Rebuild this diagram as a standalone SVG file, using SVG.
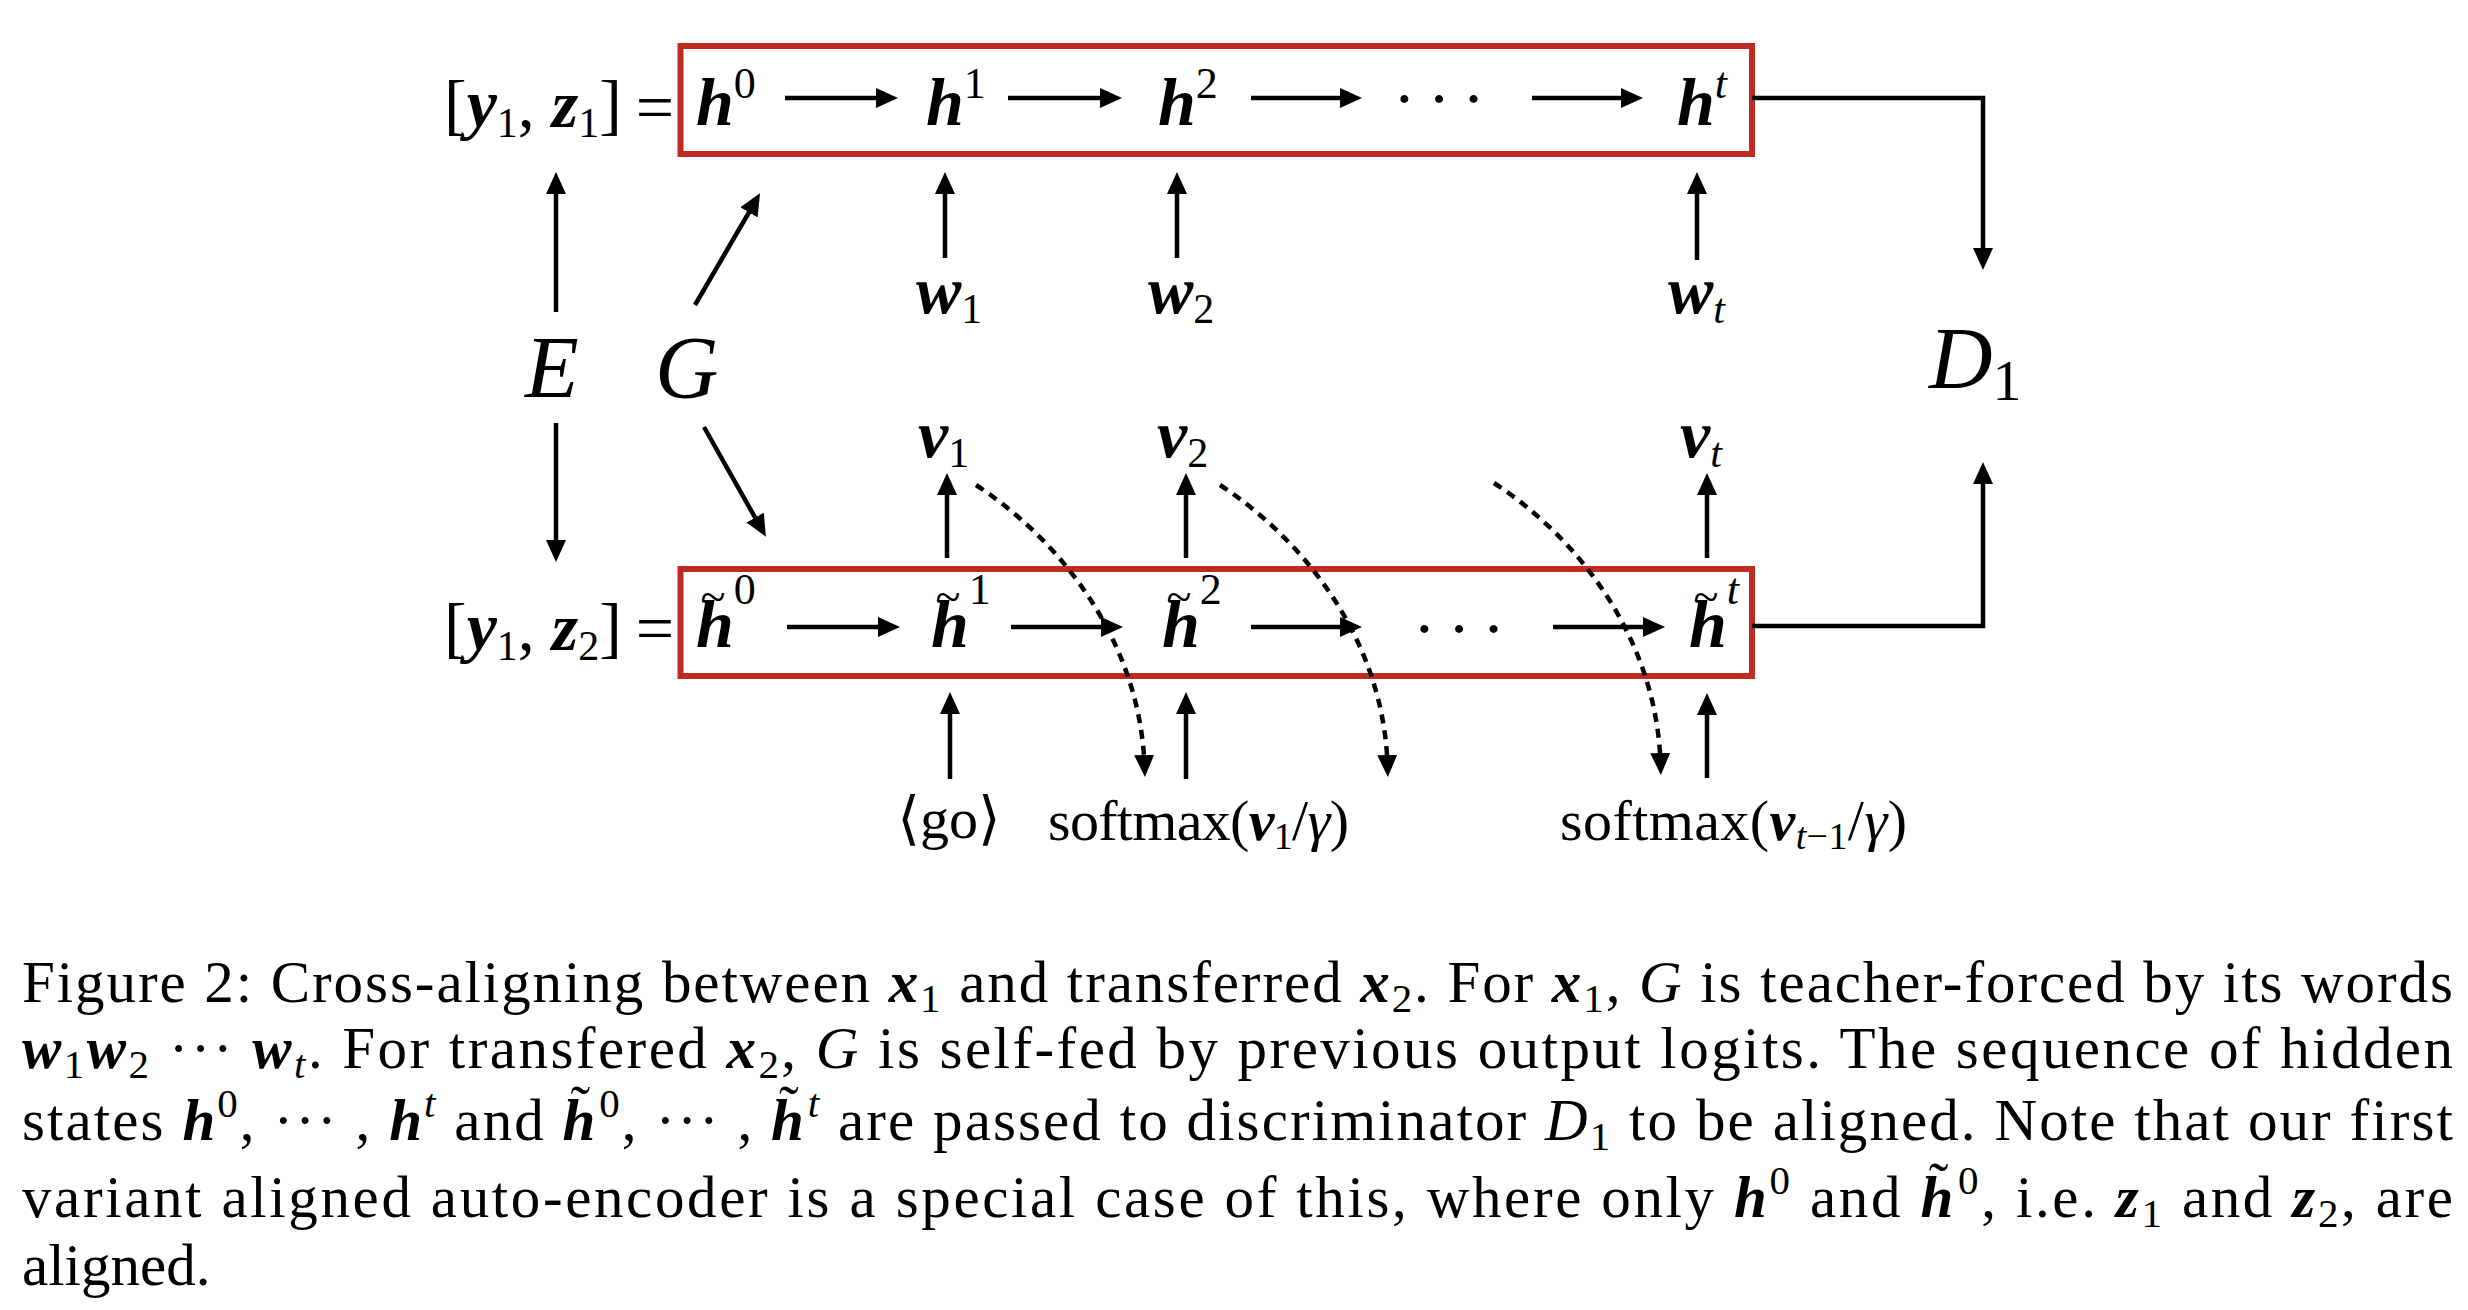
<svg xmlns="http://www.w3.org/2000/svg" width="2468" height="1310" viewBox="0 0 2468 1310">
<defs>
<style>
.m{font-family:"Liberation Serif","DejaVu Serif",serif;font-size:68px;fill:#000}
.bi{font-weight:bold;font-style:italic}
.it{font-style:italic}
.sp{font-size:44px;font-weight:normal;font-style:normal}
.spi{font-size:44px;font-weight:normal;font-style:italic}
.sb{font-size:42px;font-weight:normal;font-style:normal}
.sbi{font-size:42px;font-weight:normal;font-style:italic}
.big{font-family:"Liberation Serif","DejaVu Serif",serif;font-size:88px;font-style:italic;fill:#000}
.lab{font-family:"Liberation Serif","DejaVu Serif",serif;font-size:58px;fill:#000}
.tl{font-family:"Liberation Serif","DejaVu Serif",serif;font-size:46px;fill:#000}
.cap{font-family:"Liberation Serif","DejaVu Serif",serif;font-size:59px;fill:#000}
.cs{font-size:41px;font-weight:normal;font-style:normal}
.csi{font-size:41px;font-weight:normal;font-style:italic}
.box{fill:none;stroke:#bf2b22;stroke-width:6}
.ln{fill:none;stroke:#000;stroke-width:4.5}
.dl{fill:none;stroke:#000;stroke-width:4.5;stroke-dasharray:9 7}
</style>
<marker id="ah" viewBox="0 0 22 20" refX="12" refY="10" markerWidth="22" markerHeight="20" markerUnits="userSpaceOnUse" orient="auto"><path d="M0,0 L22,10 L0,20 z" fill="#000"/></marker>
</defs>
<rect width="2468" height="1310" fill="#fff"/>

<g id="top-box"><rect class="box" x="680.5" y="46" width="1071.5" height="108"/></g>
<g id="bottom-box"><rect class="box" x="680.5" y="569" width="1071.5" height="107"/></g>

<g id="label-y1z1"><text class="m" x="444" y="127">[<tspan class="bi">y</tspan><tspan class="sb" dy="10">1</tspan><tspan dy="-10">, </tspan><tspan class="bi">z</tspan><tspan class="sb" dy="10">1</tspan><tspan dy="-10">]</tspan></text><text class="m" x="655" y="130" text-anchor="middle">=</text></g>
<g id="label-y1z2"><text class="m" x="444" y="650">[<tspan class="bi">y</tspan><tspan class="sb" dy="10">1</tspan><tspan dy="-10">, </tspan><tspan class="bi">z</tspan><tspan class="sb" dy="10">2</tspan><tspan dy="-10">]</tspan></text><text class="m" x="655" y="651" text-anchor="middle">=</text></g>

<g id="node-h0"><text class="m" x="696" y="125"><tspan class="bi">h</tspan><tspan class="sp" dy="-27">0</tspan></text></g>
<g id="node-h1"><text class="m" x="926" y="125"><tspan class="bi">h</tspan><tspan class="sp" dy="-27">1</tspan></text></g>
<g id="node-h2"><text class="m" x="1158" y="125"><tspan class="bi">h</tspan><tspan class="sp" dy="-27">2</tspan></text></g>
<g id="node-hdots"><text class="m" x="1445" y="121" text-anchor="middle" letter-spacing="12">···</text></g>
<g id="node-ht"><text class="m" x="1677" y="125"><tspan class="bi">h</tspan><tspan class="spi" dy="-27">t</tspan></text></g>

<g id="node-ht0"><text class="m" x="696" y="647"><tspan class="bi">h</tspan><tspan class="sp" dy="-43">0</tspan></text><text class="tl" x="713" y="612" text-anchor="middle">~</text></g>
<g id="node-ht1"><text class="m" x="931" y="647"><tspan class="bi">h</tspan><tspan class="sp" dy="-43">1</tspan></text><text class="tl" x="948" y="612" text-anchor="middle">~</text></g>
<g id="node-ht2"><text class="m" x="1162" y="647"><tspan class="bi">h</tspan><tspan class="sp" dy="-43">2</tspan></text><text class="tl" x="1179" y="612" text-anchor="middle">~</text></g>
<g id="node-htdots"><text class="m" x="1465" y="651" text-anchor="middle" letter-spacing="12">···</text></g>
<g id="node-htt"><text class="m" x="1689" y="647"><tspan class="bi">h</tspan><tspan class="spi" dy="-43">t</tspan></text><text class="tl" x="1706" y="612" text-anchor="middle">~</text></g>

<g id="node-w1"><text class="m" x="916" y="313"><tspan class="bi">w</tspan><tspan class="sb" dy="10">1</tspan></text></g>
<g id="node-w2"><text class="m" x="1148" y="313"><tspan class="bi">w</tspan><tspan class="sb" dy="10">2</tspan></text></g>
<g id="node-wt"><text class="m" x="1668" y="313"><tspan class="bi">w</tspan><tspan class="sbi" dy="10">t</tspan></text></g>

<g id="node-v1"><text class="m" x="918" y="457"><tspan class="bi">v</tspan><tspan class="sb" dy="10">1</tspan></text></g>
<g id="node-v2"><text class="m" x="1157" y="457"><tspan class="bi">v</tspan><tspan class="sb" dy="10">2</tspan></text></g>
<g id="node-vt"><text class="m" x="1680" y="457"><tspan class="bi">v</tspan><tspan class="sbi" dy="10">t</tspan></text></g>

<g id="node-E"><text class="big" x="525" y="397">E</text></g>
<g id="node-G"><text class="big" x="655" y="397">G</text></g>
<g id="node-D1"><text class="big" x="1929" y="388">D<tspan style="font-size:58px;font-style:normal" dy="12">1</tspan></text></g>

<g id="node-go"><text class="lab" x="949" y="838" text-anchor="middle">⟨go⟩</text></g>
<g id="node-softmax1"><text class="lab" x="1048" y="840" textLength="301" lengthAdjust="spacing">softmax(<tspan class="bi">v</tspan><tspan class="sb" style="font-size:38px" dy="9">1</tspan><tspan dy="-9">/</tspan><tspan class="it">γ</tspan>)</text></g>
<g id="node-softmaxt"><text class="lab" x="1560" y="840" textLength="347" lengthAdjust="spacing">softmax(<tspan class="bi">v</tspan><tspan class="sbi" style="font-size:38px" dy="9">t</tspan><tspan class="sb" style="font-size:38px">−1</tspan><tspan dy="-9">/</tspan><tspan class="it">γ</tspan>)</text></g>

<g id="connectors">
<line class="ln" x1="785" y1="98" x2="888" y2="98" marker-end="url(#ah)"/>
<line class="ln" x1="1008" y1="98" x2="1112" y2="98" marker-end="url(#ah)"/>
<line class="ln" x1="1251" y1="98" x2="1352" y2="98" marker-end="url(#ah)"/>
<line class="ln" x1="1532" y1="98" x2="1633" y2="98" marker-end="url(#ah)"/>
<line class="ln" x1="787" y1="627" x2="890" y2="627" marker-end="url(#ah)"/>
<line class="ln" x1="1011" y1="627" x2="1113" y2="627" marker-end="url(#ah)"/>
<line class="ln" x1="1251" y1="627" x2="1352" y2="627" marker-end="url(#ah)"/>
<line class="ln" x1="1553" y1="627" x2="1655" y2="627" marker-end="url(#ah)"/>
<line class="ln" x1="945" y1="258" x2="945" y2="182" marker-end="url(#ah)"/>
<line class="ln" x1="1177" y1="258" x2="1177" y2="182" marker-end="url(#ah)"/>
<line class="ln" x1="1697" y1="260" x2="1697" y2="182" marker-end="url(#ah)"/>
<line class="ln" x1="947" y1="558" x2="947" y2="483" marker-end="url(#ah)"/>
<line class="ln" x1="1186" y1="558" x2="1186" y2="483" marker-end="url(#ah)"/>
<line class="ln" x1="1707" y1="558" x2="1707" y2="483" marker-end="url(#ah)"/>
<line class="ln" x1="950" y1="779" x2="950" y2="702" marker-end="url(#ah)"/>
<line class="ln" x1="1186" y1="779" x2="1186" y2="702" marker-end="url(#ah)"/>
<line class="ln" x1="1707" y1="778" x2="1707" y2="703" marker-end="url(#ah)"/>
<line class="ln" x1="556" y1="312" x2="556" y2="182" marker-end="url(#ah)"/>
<line class="ln" x1="556" y1="423" x2="556" y2="552" marker-end="url(#ah)"/>
<line class="ln" x1="695" y1="305" x2="755" y2="202" marker-end="url(#ah)"/>
<line class="ln" x1="704" y1="427" x2="761" y2="528" marker-end="url(#ah)"/>
<polyline class="ln" points="1752,98 1983,98 1983,260" marker-end="url(#ah)"/>
<polyline class="ln" points="1752,626 1983,626 1983,472" marker-end="url(#ah)"/>
<path class="dl" d="M976,485 C1060,540 1140,640 1144.6,767" marker-end="url(#ah)"/>
<path class="dl" d="M1220,485 C1304,540 1384,640 1387.6,767" marker-end="url(#ah)"/>
<path class="dl" d="M1494,483 C1578,538 1657,638 1660.6,765" marker-end="url(#ah)"/>
</g>

<g id="caption">
<text class="cap" x="22" y="1002" textLength="2431" lengthAdjust="spacing">Figure 2: Cross-aligning between <tspan class="bi">x</tspan><tspan class="cs" dy="10">1</tspan><tspan dy="-10"> and transferred </tspan><tspan class="bi">x</tspan><tspan class="cs" dy="10">2</tspan><tspan dy="-10">. For </tspan><tspan class="bi">x</tspan><tspan class="cs" dy="10">1</tspan><tspan dy="-10">, </tspan><tspan class="it">G</tspan> is teacher-forced by its words</text>
<text class="cap" x="22" y="1068" textLength="2431" lengthAdjust="spacing"><tspan class="bi">w</tspan><tspan class="cs" dy="10">1</tspan><tspan class="bi" dy="-10">w</tspan><tspan class="cs" dy="10">2</tspan><tspan dy="-10"> ··· </tspan><tspan class="bi">w</tspan><tspan class="csi" dy="10">t</tspan><tspan dy="-10">. For transfered </tspan><tspan class="bi">x</tspan><tspan class="cs" dy="10">2</tspan><tspan dy="-10">, </tspan><tspan class="it">G</tspan> is self-fed by previous output logits.  The sequence of hidden</text>
<text class="cap" x="22" y="1140" textLength="2431" lengthAdjust="spacing">states <tspan class="bi">h</tspan><tspan class="cs" dy="-23">0</tspan><tspan dy="23">, ··· , </tspan><tspan class="bi">h</tspan><tspan class="csi" dy="-23">t</tspan><tspan dy="23"> and </tspan><tspan class="bi">h</tspan><tspan dx="-27" dy="-14">˜</tspan><tspan class="cs" dx="7" dy="-9">0</tspan><tspan dy="23">, ··· , </tspan><tspan class="bi">h</tspan><tspan dx="-27" dy="-14">˜</tspan><tspan class="csi" dx="7" dy="-9">t</tspan><tspan dy="23"> are passed to discriminator </tspan><tspan class="it">D</tspan><tspan class="cs" dy="10">1</tspan><tspan dy="-10"> to be aligned. Note that our first</tspan></text>
<text class="cap" x="22" y="1217" textLength="2431" lengthAdjust="spacing">variant aligned auto-encoder is a special case of this, where only <tspan class="bi">h</tspan><tspan class="cs" dy="-23">0</tspan><tspan dy="23"> and </tspan><tspan class="bi">h</tspan><tspan dx="-27" dy="-14">˜</tspan><tspan class="cs" dx="7" dy="-9">0</tspan><tspan dy="23">, i.e.  </tspan><tspan class="bi">z</tspan><tspan class="cs" dy="10">1</tspan><tspan dy="-10"> and </tspan><tspan class="bi">z</tspan><tspan class="cs" dy="10">2</tspan><tspan dy="-10">, are</tspan></text>
<text class="cap" x="22" y="1285">aligned.</text>
</g>
</svg>
